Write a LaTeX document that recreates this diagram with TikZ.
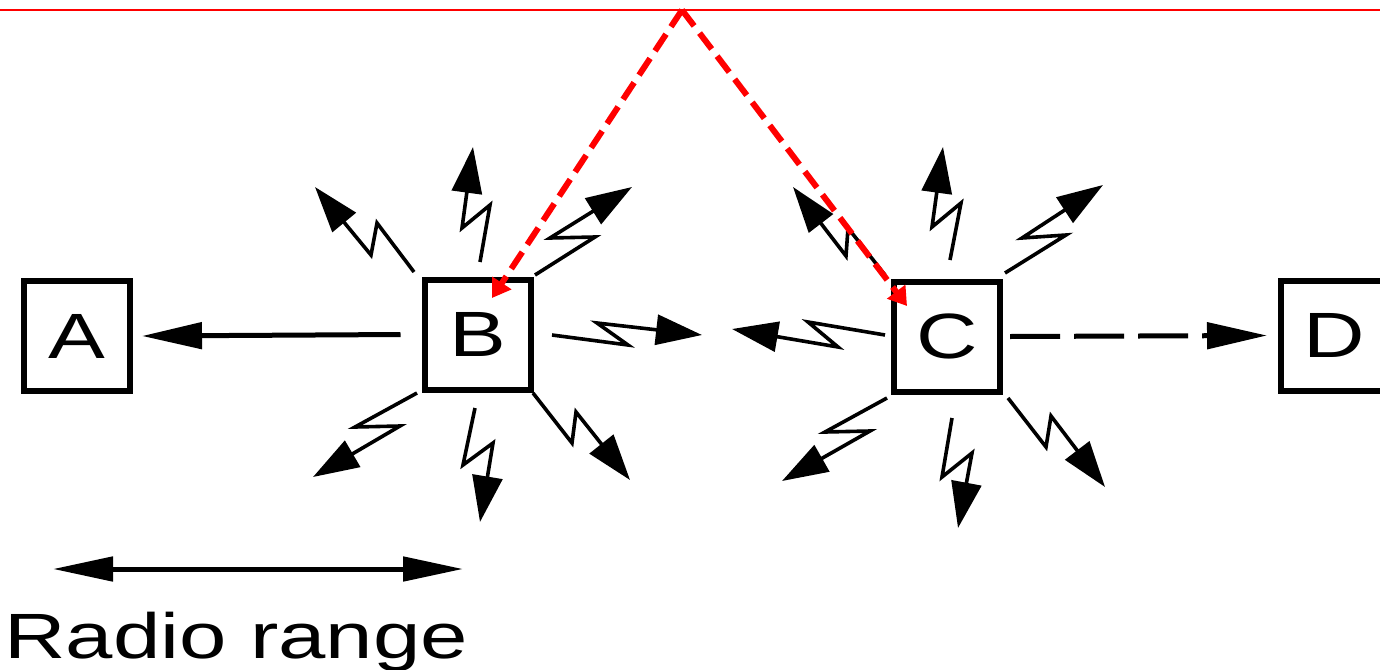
\documentclass[tikz,border=0pt]{standalone}
\usepackage{graphicx}
\usepackage{fontspec}
\setmainfont{Liberation Sans}
\usetikzlibrary{arrows.meta}
\newcommand\hsc[1]{\scalebox{1.33}[1]{#1}}
\begin{document}
\begin{tikzpicture}[x=0.5pt,y=-0.5pt,
  station/.style={draw, line width=3pt, minimum width=53pt, minimum height=55pt, inner sep=0pt, font=\fontsize{32}{38}\selectfont},
  bigarrow/.style={line width=2.5pt, -{Triangle[length=30pt,width=13pt]}},
  rangearrow/.style={line width=2.5pt, {Triangle[length=30pt,width=12pt]}-{Triangle[length=30pt,width=12pt]}},
  zap/.style={line width=1.8pt, line join=miter, -{Triangle[length=23pt,width=15pt]}},
  reddash/.style={red, line width=3pt, dash pattern=on 10pt off 4.5pt, -{Triangle[length=9pt,width=11pt]}},
  redline/.style={red, line width=1pt}]
\useasboundingbox (0,0) rectangle (1380,669);
\clip (0,0) rectangle (1380,669);

% stations
\node[station] (A) at (77,336) {\hsc{A}};
\node[station] (B) at (477.5,334.5) {\hsc{B}};
\node[station] (C) at (947,336.5) {\hsc{C}};
\node[station] (D) at (1334,335.5) {\hsc{D}};

% direct links
\draw[bigarrow] ([xshift=-10.5pt]B.west) -- ([xshift=4.5pt]A.east);
\draw[bigarrow, dash pattern=on 25pt off 7pt] ([xshift=3.5pt]C.east) -- ([xshift=-5.5pt]D.west);

% radio emissions of B
\draw[zap] (414,272) -- (377,223) -- (371,255) -- (315,187);
\draw[zap] (480,262) -- (490,205) -- (462,228) -- (473,147);
\draw[zap] (535,275) -- (595,237) -- (550,238) -- (632,187);
\draw[zap] (417,393) -- (355,427) -- (400,426) -- (313,477);
\draw[zap] (475,408) -- (463,465) -- (493,443) -- (480,522);
\draw[zap] (533,393) -- (572,443) -- (576,412) -- (630,480);
\draw[zap] (552,335) -- (628,345) -- (597,323) -- (702,335);

% radio emissions of C
\draw[zap] (885,335) -- (808,322) -- (838,347) -- (732,329);
\draw[zap] (885,275) -- (848,228) -- (846,256) -- (793,187);
\draw[zap] (950,260) -- (961,203) -- (932,227) -- (943,147);
\draw[zap] (1005,273) -- (1066,235) -- (1022,238) -- (1103,185);
\draw[zap] (887,398) -- (825,432) -- (870,431) -- (782,481);
\draw[zap] (952,418) -- (942,477) -- (972,453) -- (958,528);
\draw[zap] (1008,398) -- (1046,447) -- (1051,416) -- (1105,487);

% red annotation
\coordinate (L) at (0,10);
\coordinate (R) at (1380,10);
\coordinate (apex) at (682,10);
\coordinate (hitB) at (492,298);
\coordinate (hitC) at (907,306);
\draw[redline] (L) -- (R);
\draw[reddash] (apex) -- (hitB);
\draw[reddash] (apex) -- (hitC);

% radio range
\coordinate (rl) at (53,569);
\coordinate (rr) at (463,569);
\draw[rangearrow] (rl) -- (rr);
\node[anchor=base west, inner sep=0pt, font=\fontsize{32}{38}\selectfont] (lbl) at (4,658) {\hsc{Radio range}};
\end{tikzpicture}
\end{document}
